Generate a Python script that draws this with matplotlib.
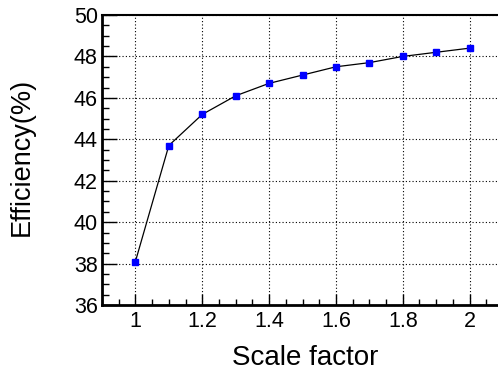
import matplotlib
matplotlib.use("Agg")
import matplotlib.pyplot as plt
from matplotlib.ticker import MultipleLocator

plt.rcParams['font.family'] = ['Liberation Sans', 'DejaVu Sans']

scale = [1.0, 1.1, 1.2, 1.3, 1.4, 1.5, 1.6, 1.7, 1.8, 1.9, 2.0]
efficiency = [38.1, 43.7, 45.2, 46.1, 46.7, 47.1, 47.5, 47.7, 48.0, 48.2, 48.4]
xticks = [1, 1.2, 1.4, 1.6, 1.8, 2]
xticklabels = ['1', '1.2', '1.4', '1.6', '1.8', '2']

fig = plt.figure(figsize=(4.98, 3.74), dpi=100)
ax = fig.add_axes([102/498, 1 - 305/374, 401/498, 290/374])

ax.plot(scale, efficiency, color='black', lw=0.9, marker='s', ms=4.5,
        mfc='blue', mec='blue', zorder=3)

ax.set_xlim(0.9, 2.1)
ax.set_ylim(36, 50)
ax.set_xticks(xticks)
ax.set_xticklabels(xticklabels)
ax.yaxis.set_major_locator(MultipleLocator(2))
ax.xaxis.set_minor_locator(MultipleLocator(0.05))
ax.yaxis.set_minor_locator(MultipleLocator(0.5))
ax.grid(True, which='major', linestyle=(0, (1, 2)), color='black', lw=0.8)

ax.tick_params(which='major', direction='in', length=8, width=1, labelsize=15.5, pad=4)
ax.tick_params(axis='y', which='major', length=11, pad=3)
ax.tick_params(which='minor', direction='in', length=4, width=1)
ax.tick_params(axis='y', which='minor', length=5)
ax.spines['left'].set_linewidth(2)
ax.spines['bottom'].set_linewidth(2)
ax.spines['top'].set_linewidth(1.5)
ax.spines['right'].set_visible(False)

fig.text(305/498, 1 - 358/374, 'Scale factor', fontsize=20, ha='center', va='center')
fig.text(22/498, 1 - 157/374, 'Efficiency(%)', fontsize=19.5, ha='center', va='center',
         rotation=90)

fig.savefig('out.png', dpi=100)
